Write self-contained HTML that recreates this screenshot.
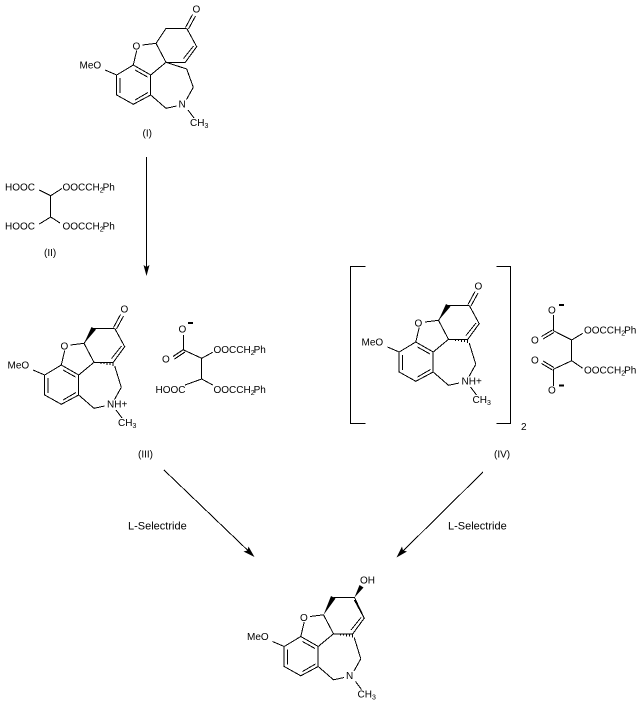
<!DOCTYPE html>
<html>
<head>
<meta charset="utf-8">
<style>
html,body{margin:0;padding:0;background:#fff}
svg{display:block}
text{font-family:"Liberation Sans",Arial,sans-serif;font-size:10px;fill:#000}
.s{font-size:7px}
.l{font-size:11px}
path{fill:none;stroke:#000;stroke-width:1;shape-rendering:crispEdges}
.f{fill:#000;stroke:none}
.h{stroke-width:1}
</style>
</head>
<body>
<svg width="642" height="705" viewBox="0 0 642 705" xmlns="http://www.w3.org/2000/svg">
<defs>
<g id="core">
<path d="M142.7 45L156 43.3L166 62.3L150.7 75M136.7 50.5L133.3 65L116.7 75V95L133.3 104.3L150.7 95V75L133.3 65M105 70L116.7 75M120 78V93M135 100L148 92.5M135 70L147.5 77M150.7 95L166 108.3L176.7 106M193.3 87.3L186.5 99.5M188 110L194 118M166 62.3H185.3L196.7 46.7L186.7 28.3M183.5 58.5L193.5 46"/>
</g>
<g id="ring">
<path d="M166 28.3H186.7"/>
<path d="M156 43.3L166 28.3"/>
</g>
<g id="hash">
<path class="h" d="M170 62v1M173 62v2M176 62v2M179 62v3M182 62v3M185 62v4"/>
<path d="M186.7 66L193.3 87.3"/>
</g>
<polygon id="wedge" class="f" points="156,43.5 163.5,27 168,29.5"/>
<path id="co" d="M185.5 27.5L192.5 14.5M188.5 29L195.5 16"/>
</defs>

<!-- I -->
<use href="#core"/>
<use href="#ring"/>
<use href="#co"/>
<path d="M166 62.3L186.7 69L193.3 87.3"/>
<text x="192.5" y="12.5">O</text>
<text x="132.5" y="49.5">O</text>
<text x="79.5" y="68.5">MeO</text>
<text x="178.5" y="107.5">N</text>
<text x="190" y="126">CH<tspan class="s" dy="2">3</tspan></text>
<text x="142.5" y="136.5">(I)</text>

<!-- arrow 1 -->
<path d="M146.5 157V270"/>
<polygon class="f" points="146.5,276 143.5,265 146.5,267 149.5,265"/>

<!-- II -->
<path d="M39.3 190L50.7 195.7L62 188.5M50.7 195.7V217M39.3 224L50.7 217L60 223"/>
<text x="5" y="190.5">HOOC</text>
<text x="62.5" y="190.5">OOCCH<tspan class="s" dy="2">2</tspan><tspan dy="-2" dx="-1">Ph</tspan></text>
<text x="5" y="229.5">HOOC</text>
<text x="62.5" y="229.5">OOCCH<tspan class="s" dy="2">2</tspan><tspan dy="-2" dx="-1">Ph</tspan></text>
<text x="44" y="256">(II)</text>

<!-- III -->
<g transform="translate(-72,300)">
<use href="#core"/>
<use href="#ring"/>
<use href="#wedge"/>
<use href="#co"/>
<use href="#hash"/>
</g>
<text x="120.5" y="312.5">O</text>
<text x="60.5" y="349.5">O</text>
<text x="7.5" y="368.5">MeO</text>
<text x="107" y="407.5">NH+</text>
<text x="118" y="426">CH<tspan class="s" dy="2">3</tspan></text>
<text x="138" y="457.5">(III)</text>

<!-- III anion -->
<path d="M183.7 335V350L201.7 358.3L212.7 352.3M201.7 358.3V379L185 385M201.7 379L212.7 385M173 356.5L183.5 349.5M174.5 359L185 352"/>
<text x="178.5" y="332.5">O</text>
<polygon class="f" points="188,322 193,322 193,324 188,324"/>
<text x="162" y="362.5">O</text>
<text x="213.5" y="353">OOCCH<tspan class="s" dy="2">2</tspan><tspan dy="-2" dx="-1">Ph</tspan></text>
<text x="213.5" y="393">OOCCH<tspan class="s" dy="2">2</tspan><tspan dy="-2" dx="-1">Ph</tspan></text>
<text x="155.5" y="393">HOOC</text>

<!-- IV -->
<g transform="translate(282.5,277)">
<use href="#core"/>
<use href="#ring"/>
<use href="#wedge"/>
<use href="#co"/>
<use href="#hash"/>
</g>
<text x="474.5" y="289.5">O</text>
<text x="414.5" y="326.5">O</text>
<text x="361.5" y="345.5">MeO</text>
<text x="461.5" y="384.5">NH+</text>
<text x="472.5" y="403">CH<tspan class="s" dy="2">3</tspan></text>
<path d="M365.5 266.5H350.5V423.5H365.5M496.5 266.5H510.5V423.5H496.5"/>
<text x="521" y="430">2</text>
<text x="494" y="457.5">(IV)</text>

<!-- IV anion -->
<path d="M553.3 315V330.7L571.7 340L582.7 333.3M571.7 340V360.7L553.3 369.3V386M571.7 360.7L582.7 368.3M541.5 336.5L552.5 330M543 339L554 332.5M541.5 363.5L552.5 370M543 361L554 367.5"/>
<text x="548" y="313.5">O</text>
<polygon class="f" points="559,304 564,304 564,306 559,306"/>
<text x="531" y="343.5">O</text>
<text x="531" y="363.5">O</text>
<text x="548" y="393.5">O</text>
<polygon class="f" points="559,384.5 564,384.5 564,386.5 559,386.5"/>
<text x="584" y="333.5">OOCCH<tspan class="s" dy="2">2</tspan><tspan dy="-2" dx="-1">Ph</tspan></text>
<text x="584" y="373.5">OOCCH<tspan class="s" dy="2">2</tspan><tspan dy="-2" dx="-1">Ph</tspan></text>

<!-- arrows to product -->
<path d="M164 470L250 552.5"/>
<polygon class="f" points="254.5,557 243.5,551.5 247.5,550.5 248.5,546.5"/>
<path d="M483 472L401 553"/>
<polygon class="f" points="396.5,557.5 402,546.5 403,550.5 407,551.5"/>
<text class="l" x="128" y="529.5">L-Selectride</text>
<text class="l" x="448" y="529.5">L-Selectride</text>

<!-- product -->
<g transform="translate(167.5,571.5)">
<use href="#core"/>
<use href="#hash"/>
</g>
<path d="M333.5 597.5H354.5L364.2 618"/>
<polygon class="f" points="323.5,615 331,596 335.5,598.5"/>
<polygon class="f" points="354.5,597.5 359.5,585 363.5,587.5"/>
<text x="360" y="583.5">OH</text>
<text x="300" y="621">O</text>
<text x="247" y="640">MeO</text>
<text x="346" y="679">N</text>
<text x="357.5" y="697.5">CH<tspan class="s" dy="2">3</tspan></text>
</svg>
</body>
</html>
